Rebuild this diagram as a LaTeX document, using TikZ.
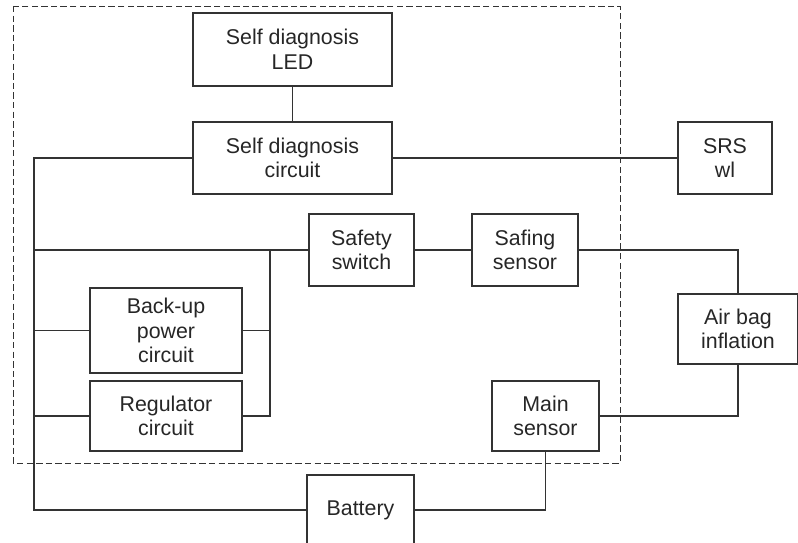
\documentclass[tikz,border=0pt]{standalone}
\usepackage{fontspec}
\setmainfont{Liberation Sans}
\usetikzlibrary{positioning}
\tikzset{
    srsblock/.style={draw=black!80, line width=0.9pt, rectangle, align=center, inner sep=0pt, text=black!85, font=\fontsize{15.2}{17.5}\selectfont},
    srswire/.style={draw=black!80, line width=0.9pt},
    srsmodule/.style={draw=black!80, line width=0.7pt, dash pattern=on 0.16cm off 0.08cm}
}
\begin{document}
\begin{tikzpicture}[x=0.025cm, y=-0.025cm]
    \useasboundingbox (0,0) rectangle (798,543);
    \clip (0,0) rectangle (798,543);

    % control unit boundary
    \draw[srsmodule] (13,6) rectangle (620,463);

    \node[srsblock, minimum width=4.975cm, minimum height=1.825cm] (led) at (292.5,49.5) {Self diagnosis\\LED};
    \node[srsblock, minimum width=4.975cm, minimum height=1.8cm] (diag) at (292.5,158) {Self diagnosis\\circuit};
    \node[srsblock, minimum width=2.35cm, minimum height=1.8cm] (srs) at (725,158) {SRS\\wl};
    \node[srsblock, minimum width=2.625cm, minimum height=1.8cm] (safety) at (361.5,250) {Safety\\switch};
    \node[srsblock, minimum width=2.65cm, minimum height=1.8cm] (safing) at (525,250) {Safing\\sensor};
    \node[srsblock, minimum width=3.8cm, minimum height=2.125cm] (backup) at (166,330.5) {Back-up\\power\\circuit};
    \node[srsblock, minimum width=3.8cm, minimum height=1.75cm] (reg) at (166,416) {Regulator\\circuit};
    \node[srsblock, minimum width=2.675cm, minimum height=1.75cm] (main) at (545.5,416) {Main\\sensor};
    \node[srsblock, minimum width=3cm, minimum height=1.75cm] (airbag) at (738,329) {Air bag\\inflation};
    \node[srsblock, minimum width=2.675cm, minimum height=1.75cm] (bat) at (360.5,510) {Battery};

    \coordinate (busT) at (34,158);
    \coordinate (busB) at (34,510);
    \coordinate (feed) at (270,250);

    \draw[srswire] (led) -- (diag);
    \draw[srswire] (diag) -- (srs);
    \draw[srswire] (diag.west) -- (busT) -- (busB) -- (bat.west);
    \draw[srswire] (safety.west) -- (safety.west -| busT);
    \draw[srswire] (feed) |- (reg.east);
    \draw[srswire] (backup.east) -- (backup.east -| feed);
    \draw[srswire] (backup.west) -- (backup.west -| busT);
    \draw[srswire] (reg.west) -- (reg.west -| busT);
    \draw[srswire] (safety) -- (safing);
    \draw[srswire] (safing.east) -| (airbag.north);
    \draw[srswire] (main.east) -| (airbag.south);
    \draw[srswire] (main.south) |- (bat.east);
\end{tikzpicture}
\end{document}
